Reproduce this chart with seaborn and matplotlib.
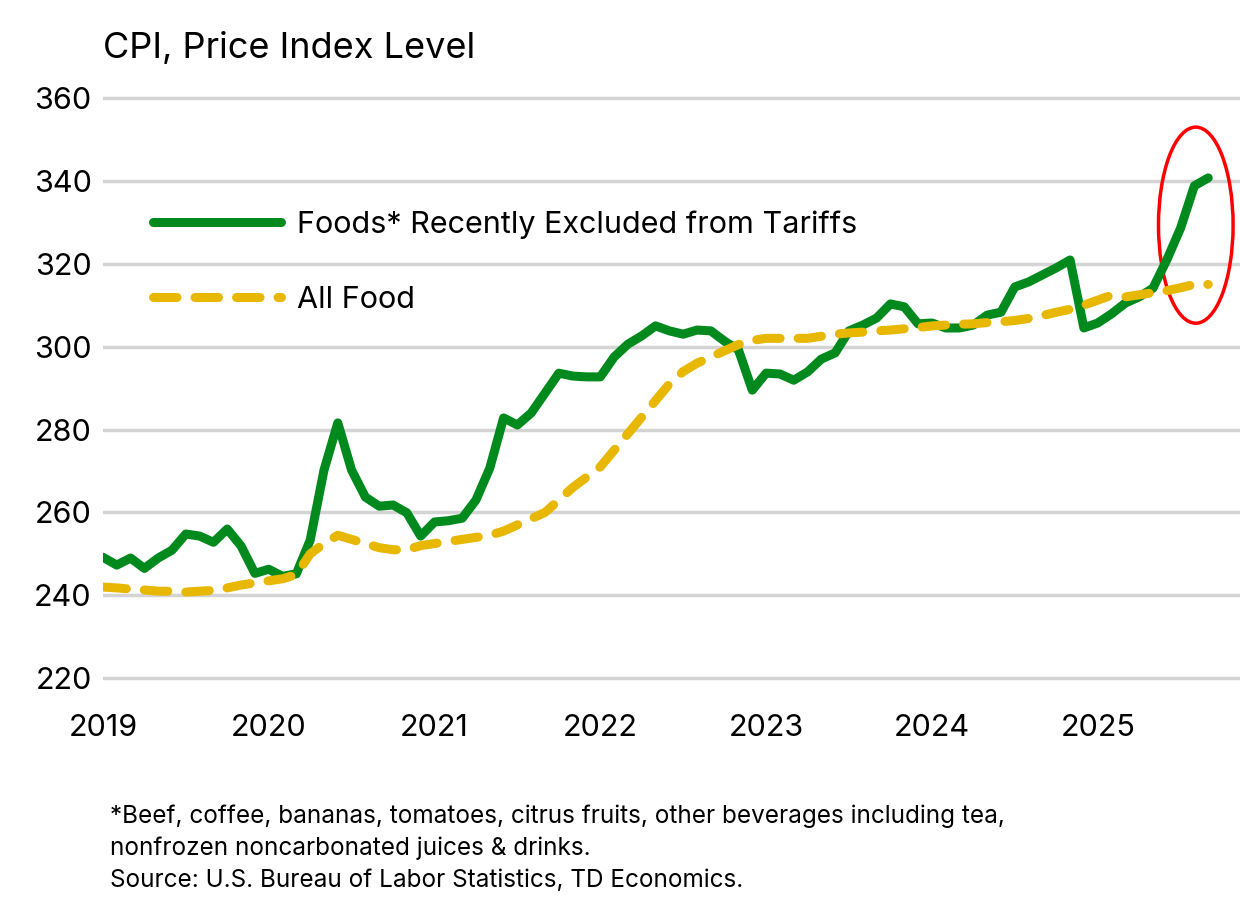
import numpy as np
import pandas as pd
import matplotlib
matplotlib.use("Agg")
import matplotlib.pyplot as plt
import seaborn as sns
from matplotlib.patches import Ellipse

foods = [249.2,247.3,249,246.5,249,250.9,254.8,254.3,252.8,256,251.9,245.3,
         246.3,244.6,245.2,253.3,270.2,281.6,270.2,263.7,261.5,261.8,259.9,254.3,
         257.7,258,258.6,263,270.7,282.8,281.1,284,288.8,293.6,292.9,292.7,
         292.7,297.5,300.6,302.6,305,303.8,303,304,303.8,301.3,299.2,289.5,
         293.6,293.4,291.9,293.9,297,298.5,303.8,305.2,306.9,310.3,309.6,305.5,
         305.7,304.5,304.5,305.2,307.6,308.3,314.4,315.6,317.3,319,320.9,304.5,
         305.7,307.9,310.5,312,314.1,320.9,328.6,338.8,340.7]
allfood = [242,241.8,241.5,241.3,241,241,240.8,241,241.2,241.8,242.5,243,
           243.5,244,245,250,252.5,254.5,253.5,252.5,251.5,251,251,252,
           252.5,253,253.5,254,254.5,255.5,257,258.5,260,263,266,268.5,
           271,275,279,283,287,291,294,296,297.5,299,300.5,301.5,
           302,302,302,302,302.5,303,303.3,303.5,303.8,304,304.3,304.6,
           305,305.2,305.4,305.5,305.8,306,306.3,306.8,307.5,308.3,309,310,
           311.2,312.4,312,312.5,313,313.5,314.2,315,315]
years = ["2019","2020","2021","2022","2023","2024","2025"]

df = pd.DataFrame({"m": np.arange(len(foods)), "Foods* Recently Excluded from Tariffs": foods,
                   "All Food": allfood})

sns.set_theme(style="white")
plt.rcParams['font.family'] = ['Inter', 'DejaVu Sans']
plt.rcParams['text.color'] = 'black'
fig = plt.figure(figsize=(12.4, 9.24), dpi=100)
ax = fig.add_axes([0.083, 0.248, 0.917, 0.664])

green = "#008a1e"; yellow = "#e8b700"
sns.lineplot(data=df, x="m", y="Foods* Recently Excluded from Tariffs", ax=ax, color=green,
             lw=6.5, label="Foods* Recently Excluded from Tariffs", solid_capstyle="round")
sns.lineplot(data=df, x="m", y="All Food", ax=ax, color=yellow, lw=6.5, label="All Food",
             dash_capstyle="round")
ax.lines[1].set_dashes([2.6, 2.0])

ax.set_xlim(0, 82.3)
ax.set_ylim(216, 364)
ax.set_xticks(np.arange(len(years)) * 12)
ax.set_xticklabels(years, fontsize=22, color="black")
ax.set_yticks(np.arange(220, 361, 20))
ax.tick_params(axis='y', labelsize=22, pad=8, length=0, labelcolor="black")
ax.tick_params(axis='x', pad=14, length=0)
ax.yaxis.grid(True, color="#d4d4d4", lw=2.5)
ax.set_axisbelow(True)
for s in ax.spines.values():
    s.set_visible(False)
ax.set_xlabel(""); ax.set_ylabel("")

ax.add_patch(Ellipse((79.1, 329.3), 5.4, 47.3, fill=False, ec="red", lw=2.5))

leg = ax.legend(loc="upper left", bbox_to_anchor=(0.02, 0.835), frameon=False, fontsize=22,
                handlelength=4.2, labelspacing=1.55, handletextpad=0.5)
for t in leg.get_texts():
    t.set_color("black")

fig.text(0.083, 0.948, "CPI, Price Index Level", fontsize=26, va="center", ha="left")
fig.text(0.089, 0.082, "*Beef, coffee, bananas, tomatoes, citrus fruits, other beverages including tea,\n"
         "nonfrozen noncarbonated juices & drinks.\nSource: U.S. Bureau of Labor Statistics, TD Economics.",
         fontsize=17.5, va="center", ha="left", linespacing=1.5)
fig.savefig("out.png", dpi=100)
